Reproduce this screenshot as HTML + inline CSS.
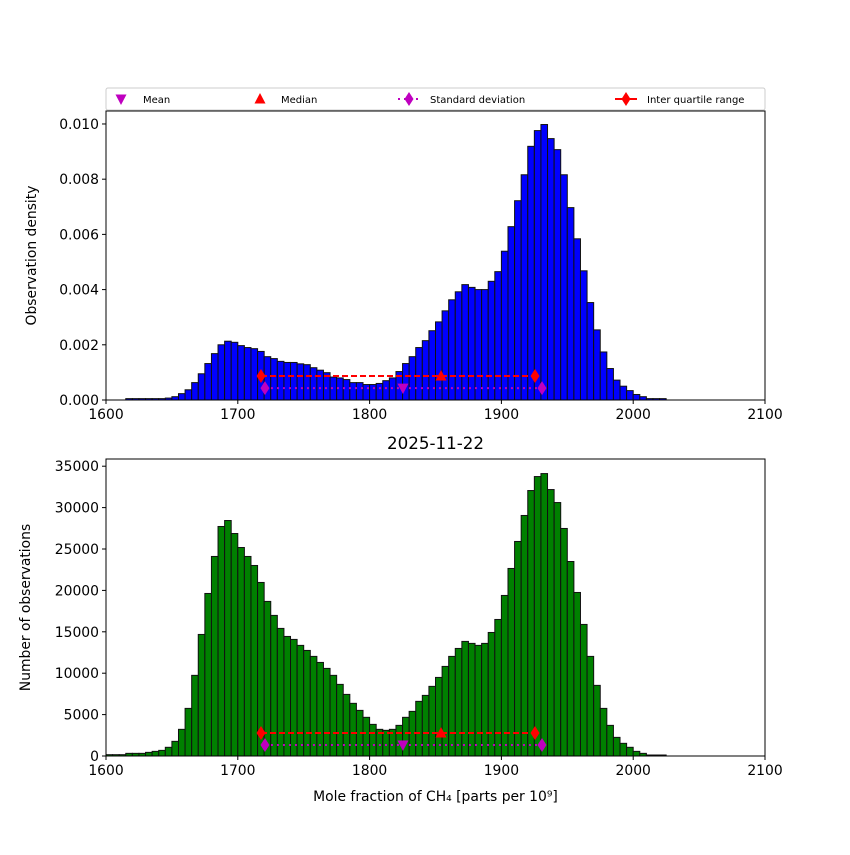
<!DOCTYPE html>
<html><head><meta charset="utf-8"><style>
body{margin:0;background:#fff}
svg{font-family:"DejaVu Sans","Liberation Sans",sans-serif}
</style></head><body>
<svg id="chart" width="850" height="850" viewBox="0 0 850 850">
<rect width="850" height="850" fill="#fff"/>
</svg>
<script>
const binStart = 1600, binWidth = 5;
const densityStarts = [1615,1620,1625,1630,1635,1640,1645,1650,1655,1660,1665,1670,1675,1680,1685,1690,1695,1700,1705,1710,1715,1720,1725,1730,1735,1740,1745,1750,1755,1760,1765,1770,1775,1780,1785,1790,1795,1800,1805,1810,1815,1820,1825,1830,1835,1840,1845,1850,1855,1860,1865,1870,1875,1880,1885,1890,1895,1900,1905,1910,1915,1920,1925,1930,1935,1940,1945,1950,1955,1960,1965,1970,1975,1980,1985,1990,1995,2000,2005,2010,2015,2020];
const densityValues = [0.05,0.05,0.05,0.05,0.05,0.05,0.07,0.12,0.23,0.37,0.63,0.95,1.32,1.68,2.0,2.13,2.09,1.97,1.9,1.86,1.76,1.57,1.5,1.4,1.36,1.36,1.31,1.28,1.17,1.08,0.99,0.83,0.8,0.74,0.63,0.63,0.56,0.56,0.6,0.7,0.8,1.03,1.32,1.57,1.9,2.15,2.51,2.83,3.23,3.63,3.92,4.18,4.08,4.0,4.0,4.3,4.65,5.39,6.28,7.22,8.16,9.19,9.76,9.98,9.47,9.07,8.16,6.97,5.84,4.68,3.53,2.54,1.74,1.14,0.72,0.5,0.34,0.2,0.12,0.05,0.05,0.05].map(v=>v/1000);
const countStarts = [1600,1605,1610,1615,1620,1625,1630,1635,1640,1645,1650,1655,1660,1665,1670,1675,1680,1685,1690,1695,1700,1705,1710,1715,1720,1725,1730,1735,1740,1745,1750,1755,1760,1765,1770,1775,1780,1785,1790,1795,1800,1805,1810,1815,1820,1825,1830,1835,1840,1845,1850,1855,1860,1865,1870,1875,1880,1885,1890,1895,1900,1905,1910,1915,1920,1925,1930,1935,1940,1945,1950,1955,1960,1965,1970,1975,1980,1985,1990,1995,2000,2005,2010,2015,2020];
const countValues = [160,160,160,320,320,320,440,560,680,1050,1770,3220,5750,9740,14680,19630,24100,27720,28440,26870,25180,24100,23010,20960,18670,16980,15410,14440,14080,13360,12750,12030,11300,10580,9740,8650,7440,6360,5510,4670,3820,3220,3100,3220,3700,4670,5390,6600,7320,8410,9490,10820,12030,12990,13840,13600,13360,13600,14920,16490,19390,22650,25910,29050,32060,33750,34110,32180,30610,27480,23490,19750,15890,12030,8530,5750,3700,2250,1530,1050,560,320,120,120,120];
const xTicks = [1600,1700,1800,1900,2000,2100];
const densityTicks = [0,0.002,0.004,0.006,0.008,0.010];
const densityTickLabels = ["0.000","0.002","0.004","0.006","0.008","0.010"];
const countTicks = [0,5000,10000,15000,20000,25000,30000,35000];
const stats = {mean:1825.3, median:1854.2, q1:1717.6, q3:1925.5, sdLo:1720.6, sdHi:1930.8};
const densityMarkerY = [0.00087, 0.00043];
const countMarkerY = [2776, 1328];

const NS="http://www.w3.org/2000/svg", svg=document.getElementById('chart');
function mk(tag,attrs,parent){const e=document.createElementNS(NS,tag);for(const k in attrs)e.setAttribute(k,attrs[k]);(parent||svg).appendChild(e);return e;}
const X0=106,X1=765;
const xs=v=>X0+(v-1600)/500*(X1-X0);

function panel(name,top,bottom,ymax,starts,vals,color,ticks,labels,ylabel,my,ylx){
  const ys=v=>bottom-v/ymax*(bottom-top);
  const g=mk('g',{});
  
  
  starts.forEach((s,i)=>{
    const r=mk('rect',{x:xs(s),y:ys(vals[i]),width:xs(s+binWidth)-xs(s),height:bottom-ys(vals[i]),fill:color,stroke:'#111','stroke-width':1},g);
    
    
  });
  const yi=ys(my[0]), ysd=ys(my[1]);
  const l1=mk('line',{x1:xs(stats.q1),x2:xs(stats.q3),y1:yi,y2:yi,stroke:'#f00','stroke-width':2,'stroke-dasharray':'6,3'},g);
  
  
  const l2=mk('line',{x1:xs(stats.sdLo),x2:xs(stats.sdHi),y1:ysd,y2:ysd,stroke:'#bf00bf','stroke-width':2,'stroke-dasharray':'2,4'},g);
  
  
  [stats.q1,stats.q3].forEach(v=>{const d=mk('path',{d:diamond(xs(v),yi),fill:'#f00'},g);
    
    });
  [stats.sdLo,stats.sdHi].forEach(v=>{const d=mk('path',{d:diamond(xs(v),ysd),fill:'#bf00bf'},g);
    
    });
  const md=mk('path',{d:tri(xs(stats.median),yi,1),fill:'#f00'},g);
  
  
  const mn=mk('path',{d:tri(xs(stats.mean),ysd,-1),fill:'#bf00bf'},g);
  
  
  const f=mk('rect',{x:X0,y:top,width:X1-X0,height:bottom-top,fill:'none',stroke:'#000','stroke-width':1},g);
  
  
  xTicks.forEach(t=>{
    mk('line',{x1:xs(t),x2:xs(t),y1:bottom,y2:bottom+4,stroke:'#000'},g);
    const tx=mk('text',{x:xs(t),y:bottom+19,'text-anchor':'middle','font-size':13.9},g);tx.textContent=t;
    
    
  });
  ticks.forEach((t,i)=>{
    mk('line',{x1:X0-4,x2:X0,y1:ys(t),y2:ys(t),stroke:'#000'},g);
    const tx=mk('text',{x:X0-7,y:ys(t)+5,'text-anchor':'end','font-size':13.9},g);tx.textContent=labels[i];
    
    
  });
  const yl=mk('text',{x:0,y:0,'text-anchor':'middle','font-size':13.9,transform:`translate(${ylx},${(top+bottom)/2}) rotate(-90)`},g);
  yl.textContent=ylabel;
  
  
}
function diamond(x,y){return `M${x},${y-7} L${x+4.5},${y} L${x},${y+7} L${x-4.5},${y} Z`;}
function tri(x,y,up){return up>0?`M${x},${y-6} L${x+5.5},${y+4.5} L${x-5.5},${y+4.5} Z`:`M${x},${y+6} L${x+5.5},${y-4.5} L${x-5.5},${y-4.5} Z`;}

panel('density',111,400,0.01047,densityStarts,densityValues,'#0000ff',densityTicks,densityTickLabels,'Observation density',densityMarkerY,36);
panel('count',459,756,35870,countStarts,countValues,'#008000',countTicks,countTicks.map(String),'Number of observations',countMarkerY,30);

const title=mk('text',{x:435.5,y:449,'text-anchor':'middle','font-size':16.7});
title.textContent='2025-11-22';


const xl=mk('text',{x:435.5,y:801,'text-anchor':'middle','font-size':13.9});
xl.textContent='Mole fraction of CH₄ [parts per 10⁹]';



const lg=mk('g',{});


mk('rect',{x:106,y:88,width:659,height:22,rx:2,fill:'#fff',stroke:'#ccc'},lg);
function lgText(x,t){const e=mk('text',{x:x,y:103,'font-size':10},lg);e.textContent=t;
  
  }
mk('path',{d:tri(121,99,-1),fill:'#bf00bf'},lg); lgText(143,'Mean');
mk('path',{d:tri(260,99,1),fill:'#f00'},lg); lgText(281,'Median');
mk('line',{x1:398,x2:420,y1:99,y2:99,stroke:'#bf00bf','stroke-width':2,'stroke-dasharray':'2,4'},lg);
mk('path',{d:diamond(409,99),fill:'#bf00bf'},lg); lgText(430,'Standard deviation');
mk('line',{x1:615,x2:637,y1:99,y2:99,stroke:'#f00','stroke-width':2},lg);
mk('path',{d:diamond(626,99),fill:'#f00'},lg); lgText(647,'Inter quartile range');
</script>
</body></html>
